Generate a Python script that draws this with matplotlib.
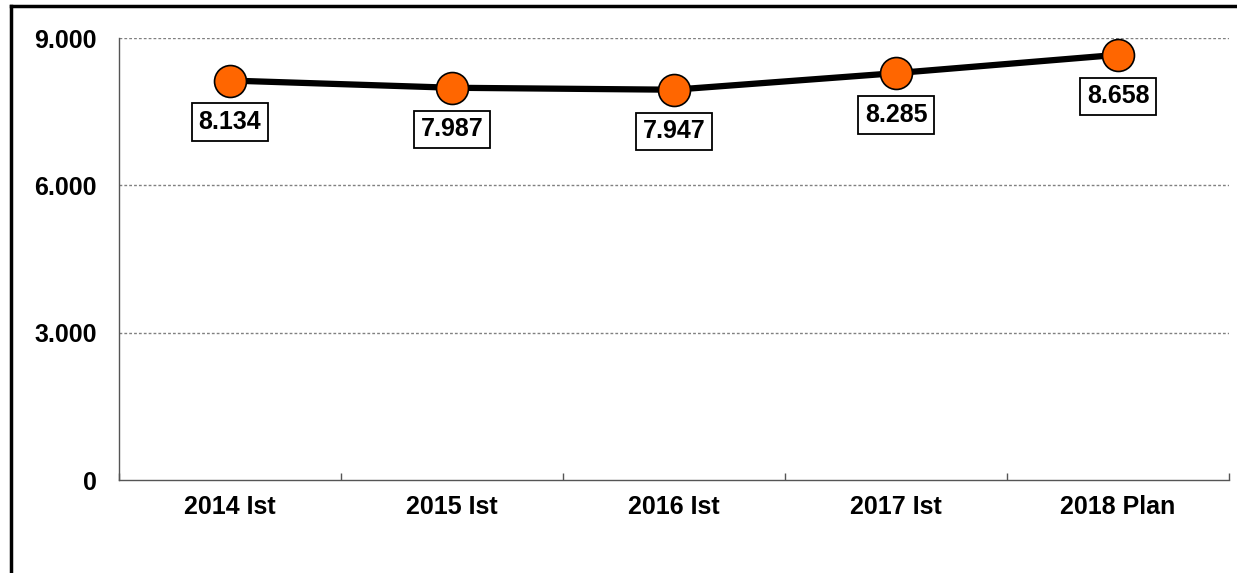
import numpy as np
import matplotlib.pyplot as plt
from matplotlib.lines import Line2D
from matplotlib.ticker import FuncFormatter

categories = ['2014 Ist', '2015 Ist', '2016 Ist', '2017 Ist', '2018 Plan']
values = [8134, 7987, 7947, 8285, 8658]
y_ticks = [0, 3000, 6000, 9000]

plt.rcParams['font.family'] = ['Liberation Sans', 'DejaVu Sans']
plt.rcParams['font.weight'] = 'bold'

fig = plt.figure(figsize=(12.37, 5.73), dpi=100)
ax = fig.add_axes([119 / 1237, 1 - 480 / 573, (1229 - 119) / 1237, (480 - 38) / 573])

x = np.arange(len(categories))
ax.plot(x, values, color='black', lw=4.5, zorder=3, solid_capstyle='round')
ax.plot(x, values, 'o', ms=23, mfc='#FF6600', mec='black', mew=1.2, zorder=4)

def fmt(v):
    return f'{v:,.0f}'.replace(',', '.')

for xi, v in zip(x, values):
    ax.annotate(fmt(v), (xi, v), xytext=(0, -30), textcoords='offset points',
                ha='center', va='center', fontsize=18, fontweight='bold', zorder=5,
                bbox=dict(boxstyle='square,pad=0.27', fc='white', ec='black', lw=1.3))

ax.set_xlim(-0.5, len(categories) - 0.5)
ax.set_ylim(0, 9000)

ax.set_yticks(y_ticks)
ax.yaxis.set_major_formatter(FuncFormatter(lambda v, p: fmt(v)))
ax.tick_params(axis='y', length=0, pad=16, labelsize=18)
for yt in y_ticks[1:]:
    ax.axhline(yt, color='#808080', lw=1, ls=(0, (2, 1.5)), zorder=1)

ax.set_xticks(np.arange(-0.5, len(categories), 1.0))
ax.set_xticklabels([])
ax.tick_params(axis='x', which='major', direction='in', length=5, color='#555555', width=1)
ax.set_xticks(x, minor=True)
ax.set_xticklabels(categories, minor=True)
ax.tick_params(axis='x', which='minor', length=0, pad=11, labelsize=18)

for s in ['top', 'right']:
    ax.spines[s].set_visible(False)
for s in ['left', 'bottom']:
    ax.spines[s].set_color('#555555')
    ax.spines[s].set_linewidth(1)

# outer frame (left and top edge visible in the crop)
fx = 11 / 1237
fy = 1 - 6 / 573
fig.add_artist(Line2D([fx, fx], [0, fy], transform=fig.transFigure, color='black', lw=2.5))
fig.add_artist(Line2D([fx, 1], [fy, fy], transform=fig.transFigure, color='black', lw=2.5))

fig.savefig('out.png', dpi=100)
